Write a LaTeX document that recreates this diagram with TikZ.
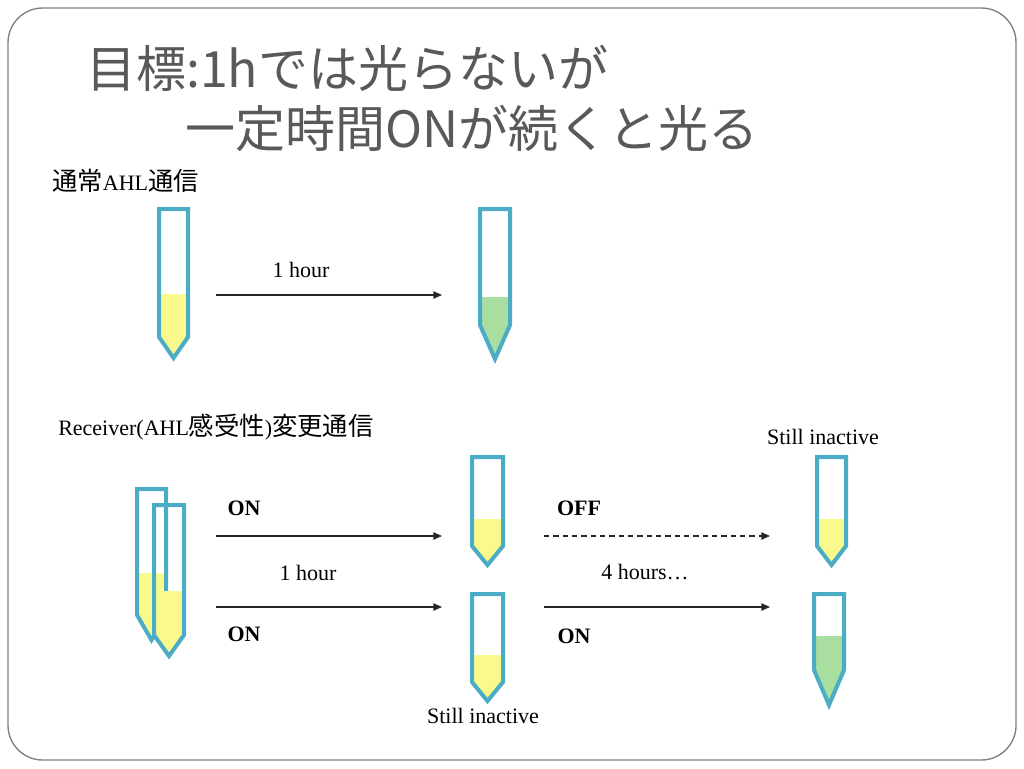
\documentclass[tikz,border=0pt]{standalone}
\usepackage{fontspec}
\setmainfont{Liberation Serif}
\newfontfamily\jp{Noto Sans CJK JP}
\usetikzlibrary{arrows.meta}
\definecolor{tubeblue}{HTML}{4BACC6}
\definecolor{liqyellow}{HTML}{FAFA8C}
\definecolor{liqgreen}{HTML}{A8DFA0}
\definecolor{titlegray}{HTML}{595959}
\definecolor{framegray}{HTML}{7F7F7F}
\newcommand\kj[1]{{\jp\fontsize{19}{20}\selectfont #1}}
\tikzset{
  tubeline/.style={draw=tubeblue, line width=3pt, line join=miter},
  arr/.style={draw=black!85, line width=1.1pt, -{Triangle[length=6.5pt,width=5.5pt]}},
  darr/.style={arr, dash pattern=on 4pt off 3pt},
  lbl/.style={font=\fontsize{16.5}{18}\selectfont, inner sep=0pt},
  blbl/.style={font=\fontsize{16.5}{18}\selectfont\bfseries, inner sep=0pt},
  ttl/.style={font=\jp\fontsize{37.5}{40}\selectfont, text=titlegray, inner sep=0pt, anchor=west},
}
% #1 left, #2 right, #3 top, #4 liquid level, #5 straight bottom, #6 tip, #7 colour
\newcommand\mytube[7]{%
  \fill[#7] (#1,#4) -- (#1,#5) -- ({(#1+#2)/2},#6) -- (#2,#5) -- (#2,#4) -- cycle;
  \draw[tubeline] (#1,#3) -- (#1,#5) -- ({(#1+#2)/2},#6) -- (#2,#5) -- (#2,#3) -- cycle;
}
\begin{document}
\begin{tikzpicture}[x=0.75pt,y=-0.75pt]
\useasboundingbox (0,0) rectangle (1024,768);
\fill[white] (0,0) rectangle (1024,768);
\draw[framegray, line width=1pt, rounded corners=26pt] (8,8) rectangle (1016,760);

% title
\node[ttl] (t1) at (86,68) {目標:1hでは光らないが};
\node[ttl] (t2) at (185,128) {一定時間ONが続くと光る};

% section labels
\node[lbl, anchor=west] (s1) at (52,181) {\kj{通常}AHL\kj{通信}};
\node[lbl, anchor=west] (s2) at (58,427) {Receiver(AHL\kj{感受性})\kj{変更通信}};

% top row tubes
\mytube{159}{188}{209}{294}{337}{358}{liqyellow}
\mytube{480}{510}{209}{297}{325}{359}{liqgreen}
\coordinate (a1s) at (216,295);
\coordinate (a1e) at (442,295);
\draw[arr] (a1s) -- (a1e);
\node[lbl] (h1) at (301,270) {1 hour};

% left overlapping tubes
\mytube{137}{166}{489}{573}{615}{640}{liqyellow}
\mytube{154}{184}{505}{591}{635}{656}{liqyellow}

% middle tubes
\mytube{472}{503}{457}{519}{546}{565}{liqyellow}
\mytube{472}{503}{594}{655}{682}{701}{liqyellow}
% right tubes
\mytube{817}{846}{457}{519}{546}{565}{liqyellow}
\mytube{814}{844}{594}{636}{670}{705}{liqgreen}

% arrows, lower part
\coordinate (b1s) at (216,536);
\coordinate (b1e) at (442,536);
\coordinate (b2s) at (216,607);
\coordinate (b2e) at (442,607);
\coordinate (c1s) at (544,536);
\coordinate (c1e) at (770,536);
\coordinate (c2s) at (544,607);
\coordinate (c2e) at (770,607);
\draw[arr] (b1s) -- (b1e);
\draw[arr] (b2s) -- (b2e);
\draw[darr] (c1s) -- (c1e);
\draw[arr] (c2s) -- (c2e);

\node[blbl] (on1) at (244,508) {ON};
\node[blbl] (on2) at (244,634) {ON};
\node[lbl] (h2) at (308,573) {1 hour};
\node[blbl] (off) at (579,508) {OFF};
\node[blbl] (on3) at (574,636) {ON};
\node[lbl] (h4) at (645,572) {4 hours…};
\node[lbl] (si1) at (823,437) {Still inactive};
\node[lbl] (si2) at (483,716) {Still inactive};
\end{tikzpicture}
\end{document}
